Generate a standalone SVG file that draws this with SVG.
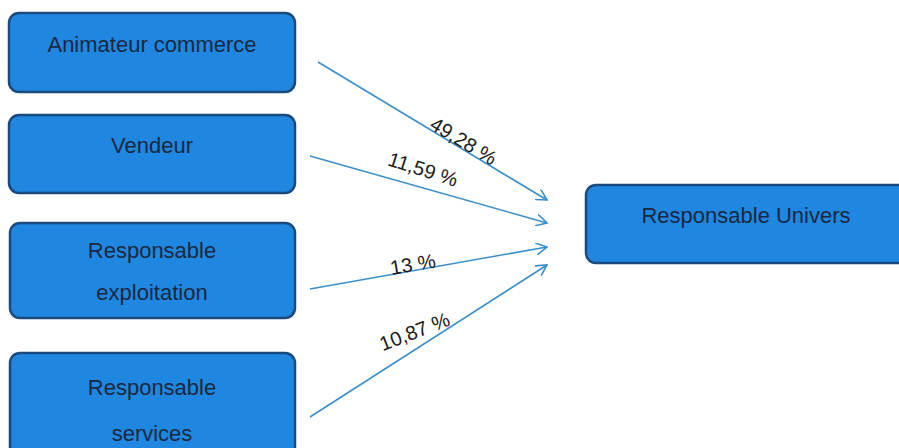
<svg xmlns="http://www.w3.org/2000/svg" width="899" height="448" viewBox="0 0 899 448">
<style>
.box{fill:#1f87e0;stroke:#1a4a80;stroke-width:2.5}
.t{font-family:"Liberation Sans",Arial,sans-serif;font-size:22px;fill:#1a2840;text-anchor:middle}
.l{font-family:"Liberation Sans",Arial,sans-serif;font-size:20px;fill:#1a1a1a;text-anchor:middle}
.c{stroke:#3b8fcb;stroke-width:1.6;fill:none;marker-end:url(#ah)}
</style>
<defs>
<marker id="ah" viewBox="0 0 12 12" refX="11" refY="6" markerWidth="12" markerHeight="12" markerUnits="userSpaceOnUse" orient="auto">
<path d="M0,0 L11,6 L0,12" fill="none" stroke="#3b8fcb" stroke-width="1.6"/>
</marker>
</defs>
<rect width="899" height="448" fill="#ffffff"/>
<g id="n1"><rect class="box" x="9" y="13" width="286" height="79" rx="10"/><text class="t" x="152" y="52">Animateur commerce</text></g>
<g id="n2"><rect class="box" x="9" y="115" width="286" height="78" rx="10"/><text class="t" x="152" y="153">Vendeur</text></g>
<g id="n3"><rect class="box" x="10" y="223" width="285" height="95" rx="10"/><text class="t" x="152" y="258">Responsable</text><text class="t" x="152" y="300">exploitation</text></g>
<g id="n4"><rect class="box" x="10" y="353" width="285" height="110" rx="10"/><text class="t" x="152" y="395">Responsable</text><text class="t" x="152" y="441">services</text></g>
<g id="n5"><rect class="box" x="586" y="185" width="330" height="78" rx="10"/><text class="t" x="746" y="223">Responsable Univers</text></g>
<g id="connectors">
<line class="c" x1="318" y1="62" x2="547" y2="200"/>
<line class="c" x1="310" y1="156" x2="547" y2="223"/>
<line class="c" x1="310" y1="289" x2="547" y2="247"/>
<line class="c" x1="310" y1="417" x2="547" y2="265"/>
<text class="l" transform="translate(460,147) rotate(31)">49,28 %</text>
<text class="l" transform="translate(421,176) rotate(18)">11,59 %</text>
<text class="l" transform="translate(414,271) rotate(-10)">13 %</text>
<text class="l" transform="translate(417,338) rotate(-21)">10,87 %</text>
</g>
</svg>
